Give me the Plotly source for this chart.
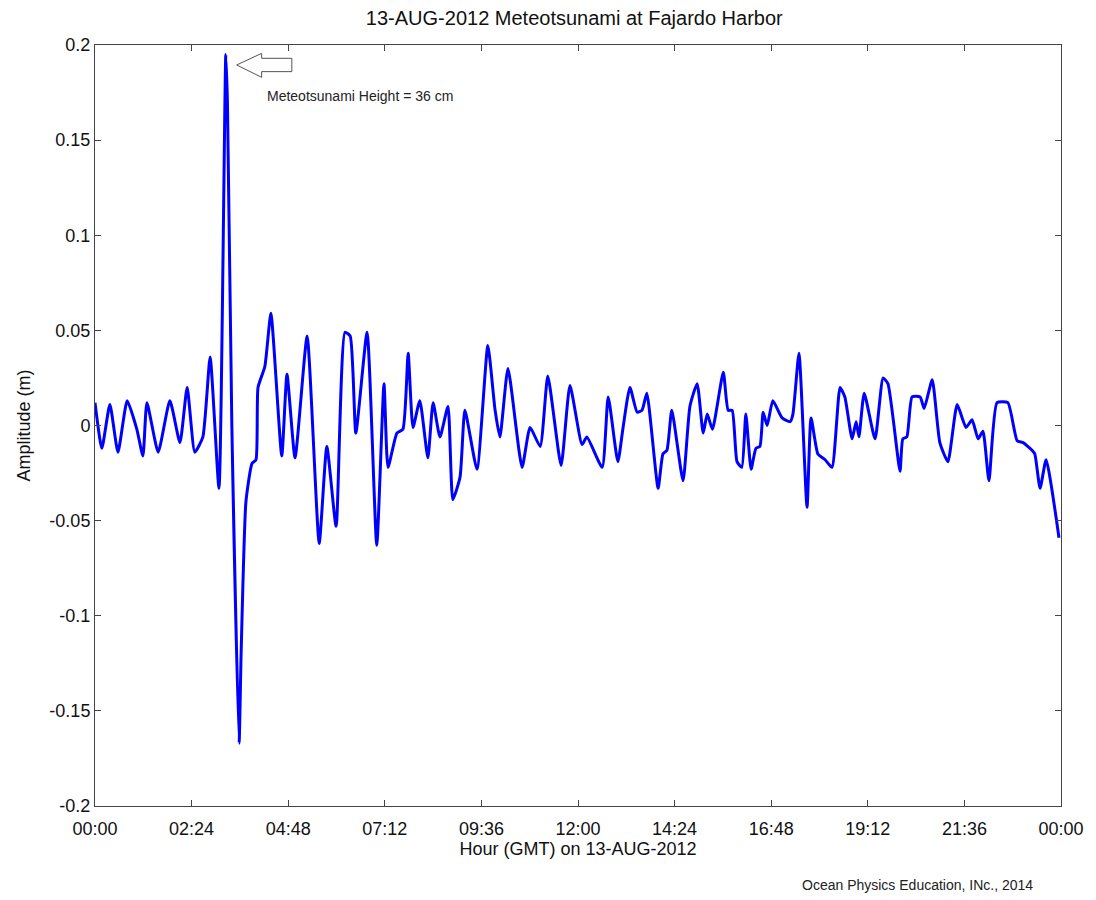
import plotly.graph_objects as go

# Time in hours after 00:00 GMT on 13-AUG-2012
hours = [0.00, 0.17, 0.37, 0.57, 0.80, 1.04, 1.19, 1.29, 1.57, 1.86, 2.11, 2.29, 2.48, 2.68, 2.86,
         3.08, 3.25, 3.29, 3.40, 3.58, 3.63, 3.75, 3.90, 4.00, 4.05, 4.22, 4.37, 4.64, 4.77, 4.97,
         5.27, 5.57, 5.76, 5.99, 6.21, 6.34, 6.48, 6.76, 7.00, 7.18, 7.28, 7.50, 7.65, 7.78, 7.90,
         8.07, 8.27, 8.40, 8.57, 8.77, 8.89, 9.07, 9.19, 9.49, 9.76, 9.94, 10.06, 10.26, 10.61,
         10.81, 11.06, 11.25, 11.58, 11.80, 12.10, 12.22, 12.60, 12.75, 12.99, 13.12, 13.29, 13.47,
         13.59, 13.71, 13.99, 14.11, 14.21, 14.33, 14.61, 14.78, 14.96, 15.11, 15.21, 15.34, 15.61,
         15.73, 15.83, 15.95, 16.07, 16.17, 16.30, 16.42, 16.52, 16.60, 16.70, 16.84, 17.07, 17.27,
         17.34, 17.49, 17.69, 17.79, 17.96, 18.14, 18.31, 18.51, 18.63, 18.81, 18.91, 18.98, 19.11,
         19.38, 19.58, 19.70, 20.00, 20.07, 20.17, 20.30, 20.50, 20.60, 20.80, 20.99, 21.19, 21.42,
         21.64, 21.79, 21.94, 22.06, 22.21, 22.41, 22.68, 22.91, 23.06, 23.28, 23.35, 23.48, 23.63,
         23.95]

# Amplitude (m)
amplitude = [0.012, -0.012, 0.011, -0.014, 0.013, -0.002, -0.016, 0.012, -0.014, 0.013, -0.009, 0.020, -0.014, -0.006, 0.036,
             -0.033, 0.195, 0.170, 0.000, -0.167, -0.120, -0.040, -0.020, -0.018, 0.020, 0.031, 0.059, -0.016, 0.027, -0.017,
             0.047, -0.062, -0.011, -0.053, 0.049, 0.047, -0.004, 0.049, -0.063, 0.022, -0.022, -0.004, -0.002, 0.038, -0.001,
             0.013, -0.017, 0.012, -0.006, 0.010, -0.039, -0.027, 0.008, -0.023, 0.042, 0.008, -0.006, 0.030, -0.022,
             -0.001, -0.011, 0.026, -0.021, 0.021, -0.010, -0.006, -0.022, 0.015, -0.019, -0.001, 0.020, 0.007,
             0.008, 0.017, -0.033, -0.015, -0.013, 0.008, -0.029, 0.010, 0.022, -0.004, 0.006, -0.002, 0.028,
             0.008, 0.008, -0.019, -0.022, 0.006, -0.023, -0.012, -0.011, 0.007, 0.000, 0.013, 0.004, 0.002,
             0.006, 0.038, -0.043, 0.004, -0.015, -0.018, -0.022, 0.020, 0.015, -0.007, 0.002, -0.006, 0.017,
             -0.007, 0.025, 0.022, -0.024, -0.007, -0.006, 0.015, 0.015, 0.009, 0.024, -0.009, -0.019, 0.011,
             -0.001, 0.003, -0.007, -0.003, -0.029, 0.012, 0.012, -0.008, -0.009, -0.013, -0.015, -0.033, -0.018,
             -0.059]

x_tick_vals = [0, 2.4, 4.8, 7.2, 9.6, 12.0, 14.4, 16.8, 19.2, 21.6, 24.0]
x_tick_text = ["00:00", "02:24", "04:48", "07:12", "09:36", "12:00", "14:24", "16:48", "19:12", "21:36", "00:00"]
y_tick_vals = [0.2, 0.15, 0.1, 0.05, 0, -0.05, -0.1, -0.15, -0.2]
y_tick_text = ["0.2", "0.15", "0.1", "0.05", "0", "-0.05", "-0.1", "-0.15", "-0.2"]

FONT = "Liberation Sans, Arial, sans-serif"
AX = "#444444"

fig = go.Figure()
fig.add_trace(go.Scatter(x=hours, y=amplitude, mode="lines",
                         line=dict(color="#0000ff", width=3, shape="spline", smoothing=0.5),
                         showlegend=False, hoverinfo="x+y"))

# hollow arrow pointing at the peak
fig.add_shape(type="path",
              path="M 3.52,0.1895 L 4.14,0.1956 L 4.14,0.193 L 4.89,0.193 L 4.89,0.186 L 4.14,0.186 L 4.14,0.183 Z",
              xref="x", yref="y", line=dict(color="#555555", width=1), fillcolor="white")

fig.add_annotation(x=4.22, y=0.173, xref="x", yref="y", text="Meteotsunami Height = 36 cm",
                   showarrow=False, xanchor="left", yanchor="middle",
                   font=dict(family=FONT, size=14, color="#222222"))
fig.add_annotation(x=0.973, y=-0.104, xref="paper", yref="paper", text="Ocean Physics Education, INc., 2014",
                   showarrow=False, xanchor="right", yanchor="middle",
                   font=dict(family=FONT, size=14, color="#222222"))

axis_common = dict(showgrid=False, zeroline=False, showline=True, linecolor=AX, linewidth=1,
                   mirror="ticks", ticks="inside", ticklen=6, tickcolor=AX,
                   tickfont=dict(family=FONT, size=18, color="#111111"))

fig.update_layout(
    width=1096, height=900,
    margin=dict(l=95, r=35, t=45, b=94),
    paper_bgcolor="white", plot_bgcolor="white",
    title=dict(text="13-AUG-2012 Meteotsunami at Fajardo Harbor", x=0.524, xanchor="center",
               y=0.98, yanchor="middle", font=dict(family=FONT, size=20, color="#111111")),
    xaxis=dict(range=[0, 24], tickvals=x_tick_vals, ticktext=x_tick_text, ticklabelstandoff=6,
               title=dict(text="Hour (GMT) on 13-AUG-2012", font=dict(family=FONT, size=18, color="#111111"),
                          standoff=4),
               **axis_common),
    yaxis=dict(range=[-0.2, 0.2], tickvals=y_tick_vals, ticktext=y_tick_text,
               title=dict(text="Amplitude (m)", font=dict(family=FONT, size=18, color="#111111"),
                          standoff=14),
               **axis_common),
)

fig.write_html("out.html")
